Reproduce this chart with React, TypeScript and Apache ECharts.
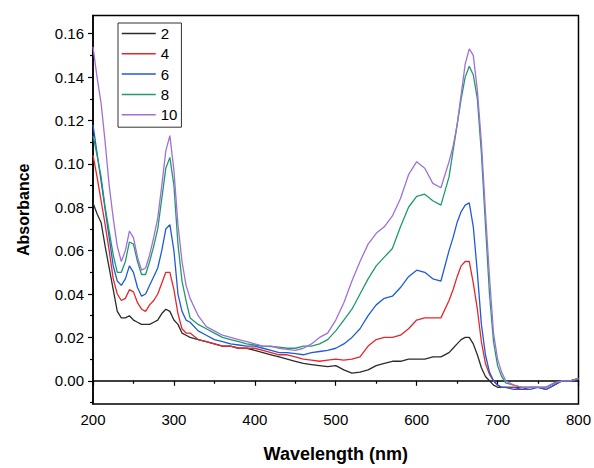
import React, { useEffect, useRef } from "react";
import * as echarts from "echarts";

const wavelengths = [
  200, 205, 210, 215, 220, 225, 230, 235, 240, 245, 250, 255, 260, 265, 270, 275, 280, 285, 290, 295, 300, 305, 310, 315, 320,
  330, 340, 350, 360, 370, 380, 390, 400, 410, 420, 430, 440, 450, 460, 470, 480, 490, 500, 510, 520, 530, 540, 550, 560, 570,
  580, 590, 600, 610, 620, 630, 640, 645, 650, 655, 660, 665, 670, 675, 680, 685, 690, 695, 700, 705, 710,
  720, 730, 740, 750, 760, 770, 780, 790, 800,
];

const s2 = [
  0.082, 0.077, 0.073, 0.062, 0.052, 0.042, 0.032, 0.029, 0.029, 0.030, 0.028, 0.027, 0.026, 0.026, 0.026, 0.027, 0.028, 0.031, 0.033, 0.032, 0.028, 0.026, 0.022, 0.021, 0.020,
  0.019, 0.018, 0.017, 0.016, 0.016, 0.015, 0.015, 0.014, 0.013, 0.012, 0.011, 0.010, 0.009, 0.008, 0.0075, 0.007, 0.0065, 0.007, 0.005, 0.0035, 0.004, 0.005, 0.007, 0.008, 0.009,
  0.009, 0.010, 0.010, 0.010, 0.011, 0.011, 0.013, 0.015, 0.017, 0.019, 0.020, 0.020, 0.017, 0.012, 0.006, 0.002, 0.000, -0.002, -0.003, -0.003, -0.003,
  -0.003, -0.003, -0.003, -0.003, -0.003, -0.001, 0.000, 0.000, 0.001,
];

const s4 = [
  0.104, 0.094, 0.083, 0.072, 0.060, 0.047, 0.040, 0.037, 0.038, 0.042, 0.041, 0.036, 0.033, 0.032, 0.035, 0.037, 0.040, 0.045, 0.050, 0.050, 0.042, 0.031, 0.024, 0.022, 0.022,
  0.019, 0.018, 0.017, 0.016, 0.016, 0.015, 0.015, 0.015, 0.014, 0.013, 0.012, 0.012, 0.011, 0.010, 0.0095, 0.009, 0.0095, 0.010, 0.0095, 0.010, 0.011, 0.016, 0.019, 0.020, 0.020,
  0.021, 0.024, 0.028, 0.029, 0.029, 0.029, 0.037, 0.042, 0.048, 0.053, 0.055, 0.055, 0.045, 0.033, 0.018, 0.008, 0.003, 0.000, -0.002, -0.003, -0.003,
  -0.003, -0.004, -0.003, -0.003, -0.004, -0.002, 0.000, 0.000, 0.001,
];

const s6 = [
  0.118, 0.105, 0.092, 0.079, 0.066, 0.053, 0.046, 0.044, 0.047, 0.053, 0.050, 0.043, 0.039, 0.040, 0.044, 0.048, 0.052, 0.060, 0.070, 0.072, 0.060, 0.040, 0.032, 0.028, 0.027,
  0.023, 0.021, 0.019, 0.018, 0.017, 0.0165, 0.016, 0.016, 0.015, 0.014, 0.013, 0.013, 0.0125, 0.012, 0.013, 0.0135, 0.014, 0.015, 0.017, 0.020, 0.024, 0.030, 0.035, 0.038, 0.039,
  0.043, 0.048, 0.051, 0.050, 0.047, 0.046, 0.060, 0.066, 0.073, 0.078, 0.081, 0.082, 0.071, 0.050, 0.026, 0.012, 0.004, 0.000, -0.002, -0.003, -0.003,
  -0.004, -0.004, -0.004, -0.003, -0.004, -0.002, 0.000, 0.000, 0.001,
];

const s8 = [
  0.113, 0.104, 0.094, 0.080, 0.069, 0.058, 0.050, 0.050, 0.055, 0.064, 0.063, 0.055, 0.049, 0.049, 0.055, 0.062, 0.070, 0.084, 0.098, 0.103, 0.090, 0.063, 0.046, 0.037, 0.029,
  0.026, 0.024, 0.022, 0.020, 0.019, 0.018, 0.017, 0.0165, 0.016, 0.0158, 0.0155, 0.015, 0.015, 0.016, 0.016, 0.017, 0.019, 0.023, 0.028, 0.033, 0.040, 0.047, 0.053, 0.057, 0.061,
  0.071, 0.080, 0.085, 0.086, 0.083, 0.081, 0.094, 0.106, 0.118, 0.130, 0.140, 0.145, 0.141, 0.130, 0.105, 0.072, 0.040, 0.018, 0.007, 0.002, -0.001,
  -0.002, -0.003, -0.003, -0.003, -0.003, -0.001, 0.000, 0.000, 0.001,
];

const s10 = [
  0.154, 0.140, 0.128, 0.110, 0.090, 0.075, 0.062, 0.055, 0.060, 0.069, 0.066, 0.057, 0.051, 0.052, 0.058, 0.066, 0.075, 0.090, 0.106, 0.113, 0.097, 0.072, 0.055, 0.044, 0.038,
  0.030, 0.025, 0.023, 0.021, 0.020, 0.019, 0.018, 0.017, 0.016, 0.016, 0.015, 0.0145, 0.014, 0.015, 0.017, 0.020, 0.022, 0.028, 0.036, 0.046, 0.055, 0.063, 0.068, 0.071, 0.076,
  0.084, 0.095, 0.101, 0.098, 0.091, 0.089, 0.101, 0.108, 0.118, 0.132, 0.146, 0.153, 0.150, 0.134, 0.110, 0.078, 0.048, 0.022, 0.010, 0.004, 0.000,
  -0.002, -0.003, -0.003, -0.003, -0.003, -0.001, 0.000, 0.000, 0.001,
];

const seriesNames = ["2", "4", "6", "8", "10"];
const seriesValues = [s2, s4, s6, s8, s10];
const colors = ["#2b2b2b", "#e5262b", "#1f5bd6", "#1f9a6a", "#a070d8"];

const yMajorTicks = [0, 0.02, 0.04, 0.06, 0.08, 0.1, 0.12, 0.14, 0.16];
const yMinorTicks = [-0.01, 0.01, 0.03, 0.05, 0.07, 0.09, 0.11, 0.13, 0.15];

const FONT = "'Liberation Sans', Arial, sans-serif";
const Y_MIN = -0.0107;
const Y_MAX = 0.1684;

export default function App() {
  const ref = useRef<HTMLDivElement>(null);
  useEffect(() => {
    if (!ref.current) return;
    const chart = echarts.init(ref.current, null, { renderer: "svg" });
    chart.setOption({
      animation: false,
      backgroundColor: "#ffffff",
      grid: {
        left: 93,
        right: 15,
        top: 15.5,
        bottom: 59.5,
        show: true,
        borderColor: "#000",
        borderWidth: 1.5,
        backgroundColor: "transparent",
      },
      legend: {
        data: seriesNames,
        orient: "vertical",
        left: 118,
        top: 23,
        itemWidth: 34,
        itemHeight: 14,
        itemGap: 5.3,
        padding: [3, 4, 5, 3],
        borderColor: "#333",
        borderWidth: 1,
        itemStyle: { opacity: 0 },
        lineStyle: { width: 1.5 },
        textStyle: { fontFamily: FONT, fontSize: 15, color: "#000" },
      },
      xAxis: {
        type: "value",
        min: 200,
        max: 800,
        interval: 100,
        name: "Wavelength (nm)",
        nameLocation: "middle",
        nameGap: 41,
        nameTextStyle: { fontFamily: FONT, fontSize: 18, fontWeight: "bold", color: "#000" },
        axisLine: { show: true, lineStyle: { color: "#000", width: 1.5 } },
        axisTick: { show: true, inside: false, length: 5, lineStyle: { color: "#000", width: 1.2 } },
        minorTick: { show: true, splitNumber: 2, length: 3, lineStyle: { color: "#000", width: 1.2 } },
        axisLabel: { fontFamily: FONT, fontSize: 15, color: "#000", margin: 8 },
        splitLine: { show: false },
        minorSplitLine: { show: false },
      },
      yAxis: [
        {
          type: "value",
          min: Y_MIN,
          max: Y_MAX,
          name: "Absorbance",
          nameLocation: "middle",
          nameGap: 62,
          nameRotate: 90,
          nameTextStyle: { fontFamily: FONT, fontSize: 16, fontWeight: "bold", color: "#000" },
          axisLine: { show: true, lineStyle: { color: "#000", width: 1.5 } },
          axisTick: { show: true, length: 5, customValues: yMajorTicks, lineStyle: { color: "#000", width: 1.2 } },
          axisLabel: {
            fontFamily: FONT,
            fontSize: 15,
            color: "#000",
            margin: 9,
            customValues: yMajorTicks,
            formatter: (v: number) => v.toFixed(2),
          },
          splitLine: { show: false },
        },
        {
          type: "value",
          min: Y_MIN,
          max: Y_MAX,
          position: "left",
          axisLine: { show: false },
          axisTick: { show: true, length: 3, customValues: yMinorTicks, lineStyle: { color: "#000", width: 1.2 } },
          axisLabel: { show: false },
          splitLine: { show: false },
        },
      ],
      series: seriesNames.map((name, i) => ({
        name,
        type: "line",
        yAxisIndex: 0,
        symbol: "none",
        showSymbol: false,
        color: colors[i],
        lineStyle: { color: colors[i], width: 1.3 },
        data: wavelengths.map((w, j) => [w, seriesValues[i][j]]),
      })),
    });
    return () => chart.dispose();
  }, []);
  return (
    <div
      ref={ref}
      style={{ position: "fixed", left: 0, top: 0, width: 594, height: 468, background: "#fff" }}
    />
  );
}
